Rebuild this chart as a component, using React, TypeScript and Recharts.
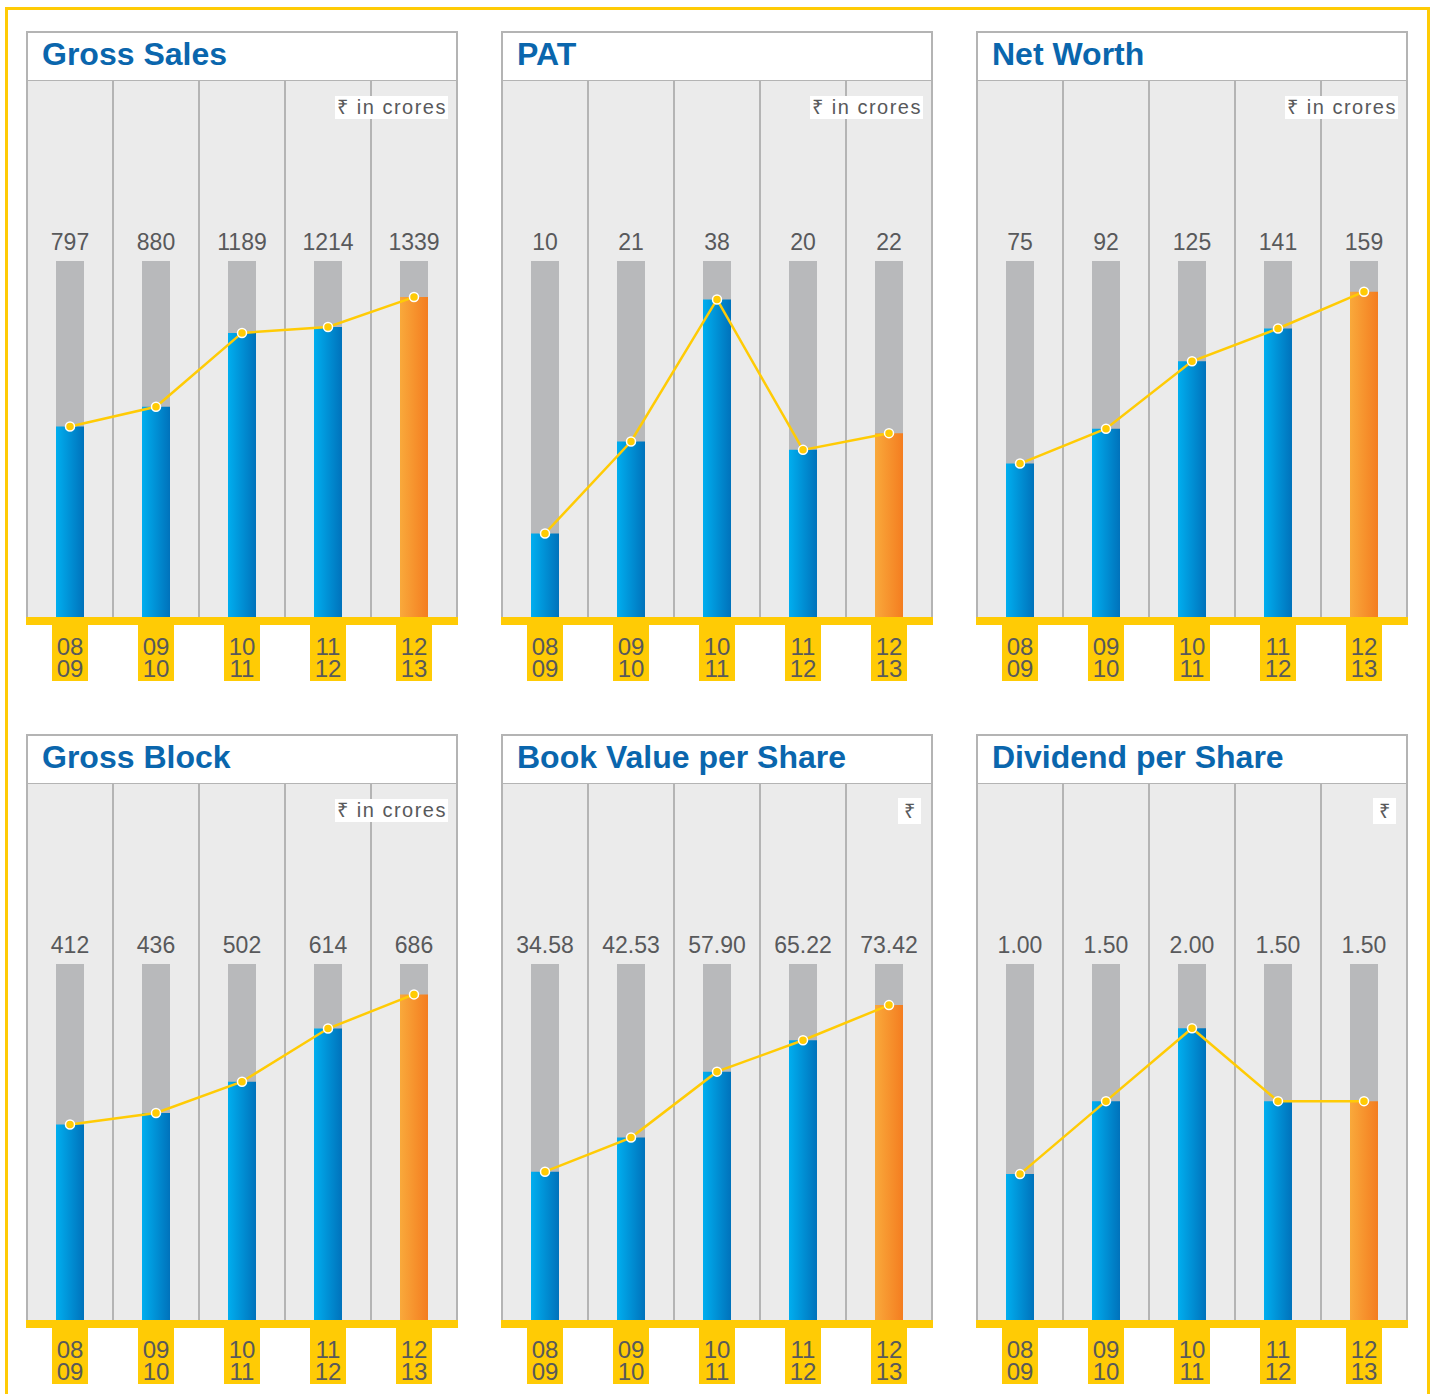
import React from 'react'
import { ComposedChart, Bar, Line, Cell, XAxis, YAxis } from 'recharts'

// Financial years shown under every panel (start / end year)
const periods = [
  ['08', '09'],
  ['09', '10'],
  ['10', '11'],
  ['11', '12'],
  ['12', '13'],
]

const grossSales = [797, 880, 1189, 1214, 1339]
const pat = [10, 21, 38, 20, 22]
const netWorth = [75, 92, 125, 141, 159]
const grossBlock = [412, 436, 502, 614, 686]
const bookValue = [34.58, 42.53, 57.9, 65.22, 73.42]
const dividend = [1.0, 1.5, 2.0, 1.5, 1.5]

const YELLOW = '#ffcb05'
const TRACK = '#b8b9bb'
const COLUMN_BG = '#ebebeb'
const RULE = '#b4b4b4'
const TITLE_BLUE = '#0a66ad'
const TEXT_GREY = '#58595b'
const FONT = '"Liberation Sans", Arial, Helvetica, sans-serif'

const PANEL_W = 432
const CHART_H = 601

type PanelProps = {
  id: string
  title: string
  unit: string
  values: number[]
  max: number
  digits: number
  left: number
  top: number
}

function YearTick(props: any) {
  const { x, y, index } = props
  const [from, to] = periods[index] ?? ['', '']
  return (
    <g>
      <rect x={x - 18} y={y} width={36} height={64} fill={YELLOW} />
      <text x={x} y={y + 38} textAnchor="middle" fontSize={24} fill={TEXT_GREY} fontFamily={FONT}>
        <tspan x={x}>{from}</tspan>
        <tspan x={x} dy={22}>
          {to}
        </tspan>
      </text>
    </g>
  )
}

function MetricPanel({ id, title, unit, values, max, digits, left, top }: PanelProps) {
  const data = periods.map((p, i) => ({ period: p.join('-'), value: values[i] }))
  const last = data.length - 1
  const wide = unit.length > 1

  return (
    <div style={{ position: 'absolute', left, top, width: PANEL_W, height: 652, fontFamily: FONT }}>
      {/* title strip */}
      <div
        style={{
          position: 'absolute',
          left: 0,
          top: 0,
          width: PANEL_W,
          height: 51,
          boxSizing: 'border-box',
          border: `2px solid ${RULE}`,
          background: '#fff',
        }}
      >
        <div
          style={{
            position: 'absolute',
            left: 14,
            top: 5,
            fontSize: 32,
            lineHeight: '32px',
            fontWeight: 700,
            color: TITLE_BLUE,
            whiteSpace: 'nowrap',
          }}
        >
          {title}
        </div>
      </div>

      {/* column backdrop */}
      <div
        style={{
          position: 'absolute',
          left: 0,
          top: 50,
          width: PANEL_W,
          height: 536,
          boxSizing: 'border-box',
          background: COLUMN_BG,
          borderLeft: `2px solid ${RULE}`,
          borderRight: `2px solid ${RULE}`,
        }}
      />
      {[1, 2, 3, 4].map((k) => (
        <div
          key={k}
          style={{
            position: 'absolute',
            left: 1 + (k * (PANEL_W - 2)) / 5 - 0.75,
            top: 50,
            width: 1.5,
            height: 536,
            background: RULE,
          }}
        />
      ))}

      <div
        style={{
          position: 'absolute',
          right: wide ? 10 : 12,
          top: wide ? 65 : 64,
          height: wide ? 23 : 26,
          padding: wide ? '0 1px 0 2px' : '0 6px',
          background: '#fff',
          fontSize: 20,
          lineHeight: wide ? '23px' : '26px',
          letterSpacing: wide ? 1.5 : 0,
          color: TEXT_GREY,
          whiteSpace: 'nowrap',
        }}
      >
        {unit}
      </div>

      <div style={{ position: 'absolute', left: 0, top: 50 }}>
        <ComposedChart
          width={PANEL_W}
          height={CHART_H}
          data={data}
          margin={{ top: 140, right: 1, bottom: 0, left: 1 }}
        >
          <defs>
            <linearGradient id={`${id}-blue`} x1="0" y1="0" x2="1" y2="0">
              <stop offset="0%" stopColor="#00aeef" />
              <stop offset="100%" stopColor="#0072bb" />
            </linearGradient>
            <linearGradient id={`${id}-orange`} x1="0" y1="0" x2="1" y2="0">
              <stop offset="0%" stopColor="#f9a93b" />
              <stop offset="100%" stopColor="#f47d20" />
            </linearGradient>
          </defs>
          <XAxis
            xAxisId="bottom"
            dataKey="period"
            height={65}
            axisLine={false}
            tickLine={false}
            tickSize={0}
            tickMargin={0}
            interval={0}
            tick={(p: any) => <YearTick {...p} />}
          />
          <XAxis
            xAxisId="top"
            orientation="top"
            dataKey="period"
            height={40}
            axisLine={false}
            tickLine={false}
            tickSize={0}
            tickMargin={0}
            interval={0}
            tick={(p: any) => (
              <text
                x={p.x}
                y={p.y - 11}
                textAnchor="middle"
                fontSize={23}
                fill={TEXT_GREY}
                fontFamily={FONT}
              >
                {values[p.index].toFixed(digits)}
              </text>
            )}
          />
          <YAxis hide domain={[0, max]} allowDataOverflow />
          <Bar
            xAxisId="bottom"
            dataKey="value"
            barSize={28}
            background={{ fill: TRACK }}
            isAnimationActive={false}
          >
            {data.map((_, i) => (
              <Cell key={i} fill={i === last ? `url(#${id}-orange)` : `url(#${id}-blue)`} />
            ))}
          </Bar>
          <Line
            xAxisId="top"
            dataKey="value"
            stroke={YELLOW}
            strokeWidth={2.5}
            dot={{ r: 4.5, fill: YELLOW, stroke: '#fff', strokeWidth: 1.5 }}
            activeDot={false}
            isAnimationActive={false}
          />
        </ComposedChart>
      </div>

      {/* yellow base strip */}
      <div
        style={{ position: 'absolute', left: 0, top: 586, width: PANEL_W, height: 8, background: YELLOW }}
      />
    </div>
  )
}

export default function App() {
  return (
    <div
      style={{
        position: 'absolute',
        left: 0,
        top: 0,
        width: 1437,
        height: 1394,
        overflow: 'hidden',
        background: '#fff',
      }}
    >
      <div
        style={{
          position: 'absolute',
          left: 5,
          top: 7,
          width: 1425,
          height: 1420,
          boxSizing: 'border-box',
          border: `3px solid ${YELLOW}`,
        }}
      />
      <MetricPanel id="gs" title="Gross Sales" unit="₹ in crores" values={grossSales} max={1490} digits={0} left={26} top={31} />
      <MetricPanel id="pat" title="PAT" unit="₹ in crores" values={pat} max={42.6} digits={0} left={501} top={31} />
      <MetricPanel id="nw" title="Net Worth" unit="₹ in crores" values={netWorth} max={174} digits={0} left={976} top={31} />
      <MetricPanel id="gb" title="Gross Block" unit="₹ in crores" values={grossBlock} max={750} digits={0} left={26} top={734} />
      <MetricPanel id="bv" title="Book Value per Share" unit="₹" values={bookValue} max={83} digits={2} left={501} top={734} />
      <MetricPanel id="dps" title="Dividend per Share" unit="₹" values={dividend} max={2.44} digits={2} left={976} top={734} />
    </div>
  )
}
